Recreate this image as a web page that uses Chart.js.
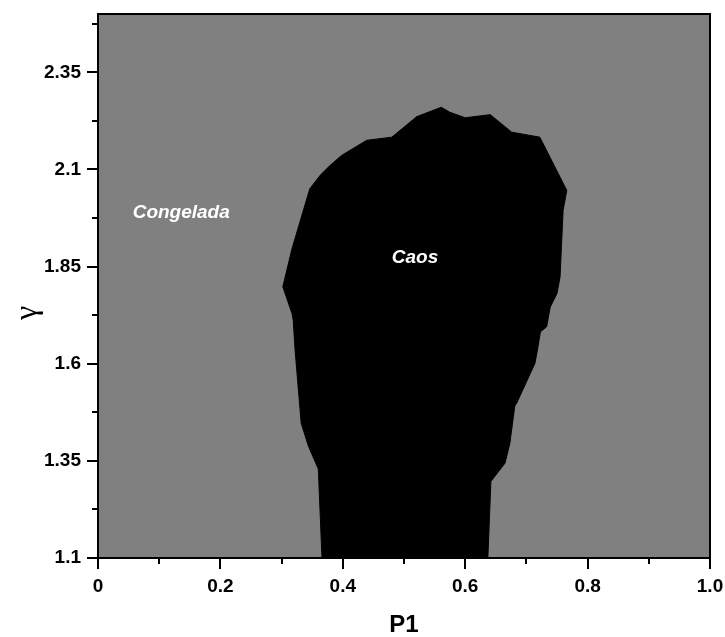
<!DOCTYPE html>
<html>
<head>
<meta charset="utf-8">
<title>P1 vs gamma</title>
<script src="https://cdn.jsdelivr.net/npm/chart.js@4.4.1/dist/chart.umd.min.js"></script>
<style>
  html, body { margin: 0; padding: 0; background: #fff; }
  #wrap { width: 725px; height: 637px; }
</style>
</head>
<body>
<div id="wrap"><canvas id="phaseChart" width="725" height="637"></canvas></div>
<script>
// boundary of the chaotic region (P1, gamma)
const chaosP1 = [0.366, 0.360, 0.344, 0.332, 0.322, 0.319, 0.317, 0.302, 0.317, 0.346, 0.363, 0.379,
  0.398, 0.439, 0.480, 0.521, 0.561, 0.575, 0.600, 0.641, 0.676, 0.722, 0.766, 0.760, 0.758, 0.755,
  0.750, 0.739, 0.733, 0.723, 0.718, 0.714, 0.684, 0.681, 0.673, 0.665, 0.642, 0.637];
const chaosGamma = [1.100, 1.329, 1.387, 1.447, 1.635, 1.712, 1.729, 1.798, 1.896, 2.050, 2.085, 2.110,
  2.136, 2.175, 2.183, 2.236, 2.260, 2.247, 2.233, 2.241, 2.196, 2.183, 2.046, 1.995, 1.926, 1.823,
  1.781, 1.746, 1.695, 1.682, 1.635, 1.601, 1.498, 1.491, 1.395, 1.344, 1.297, 1.100];

const xTicks = [0, 0.2, 0.4, 0.6, 0.8, 1.0];
const xTickLabels = ["0", "0.2", "0.4", "0.6", "0.8", "1.0"];
const xMinor = [0.1, 0.3, 0.5, 0.7, 0.9];
const yTicks = [1.1, 1.35, 1.6, 1.85, 2.1, 2.35];
const yTickLabels = ["1.1", "1.35", "1.6", "1.85", "2.1", "2.35"];
const yMinor = [1.225, 1.475, 1.725, 1.975, 2.225, 2.475];

const regionNames = ["Congelada", "Caos"];
const regionP1 = [0.136, 0.518];
const regionGamma = [1.988, 1.872];

document.addEventListener("DOMContentLoaded", () => {
  const ctx = document.getElementById("phaseChart").getContext("2d");

  const points = chaosP1.map((p, i) => ({ x: p, y: chaosGamma[i] }));

  // gray plot background + frame, minor ticks, region labels, gamma title
  const phasePlugin = {
    id: "phasePlugin",
    beforeDatasetsDraw(chart) {
      const { ctx, chartArea: a } = chart;
      ctx.save();
      ctx.fillStyle = "#808080";
      ctx.fillRect(a.left, a.top, a.right - a.left, a.bottom - a.top);
      ctx.restore();
    },
    afterDraw(chart) {
      const { ctx, chartArea: a, scales } = chart;
      ctx.save();
      ctx.strokeStyle = "#000";
      ctx.lineWidth = 2;
      ctx.strokeRect(a.left, a.top, a.right - a.left, a.bottom - a.top);

      ctx.beginPath();
      xMinor.forEach(v => {
        const px = Math.round(scales.x.getPixelForValue(v));
        ctx.moveTo(px, a.bottom);
        ctx.lineTo(px, a.bottom + 6);
      });
      yMinor.forEach(v => {
        const py = Math.round(scales.y.getPixelForValue(v));
        ctx.moveTo(a.left, py);
        ctx.lineTo(a.left - 6, py);
      });
      ctx.stroke();

      ctx.fillStyle = "#fff";
      ctx.font = "italic bold 19px 'Liberation Sans', Arial, sans-serif";
      ctx.textAlign = "center";
      ctx.textBaseline = "middle";
      regionNames.forEach((name, i) => {
        ctx.fillText(name, scales.x.getPixelForValue(regionP1[i]), scales.y.getPixelForValue(regionGamma[i]));
      });

      // y axis title sits a bit below the middle in the original
      ctx.translate(28, 313);
      ctx.rotate(-Math.PI / 2);
      ctx.fillStyle = "#000";
      ctx.font = "32px 'Liberation Serif', 'DejaVu Serif', serif";
      ctx.fillText("γ", 0, 0);
      ctx.restore();
    }
  };

  const tickFont = { family: "'Liberation Sans', Arial, sans-serif", size: 19, weight: "bold" };

  new Chart(ctx, {
    type: "scatter",
    data: {
      datasets: [{
        label: "Caos",
        data: points,
        showLine: true,
        fill: "shape",
        backgroundColor: "#000",
        borderColor: "#000",
        borderWidth: 1,
        pointRadius: 0,
        tension: 0
      }]
    },
    options: {
      responsive: false,
      animation: false,
      layout: { padding: { left: 8, top: 14, right: 15, bottom: 0 } },
      plugins: {
        legend: { display: false },
        tooltip: { enabled: false }
      },
      scales: {
        x: {
          type: "linear",
          min: 0,
          max: 1,
          afterBuildTicks: scale => { scale.ticks = xTicks.map(v => ({ value: v })); },
          afterFit: scale => {
            scale.height = 79;
            scale.paddingLeft = 0;
            scale.paddingRight = 0;
          },
          ticks: {
            color: "#000",
            font: tickFont,
            padding: 6,
            maxRotation: 0,
            callback: (v) => xTickLabels[xTicks.indexOf(v)] ?? ""
          },
          grid: { drawOnChartArea: false, color: "#000", tickLength: 11, tickWidth: 2, lineWidth: 2 },
          border: { display: false },
          title: {
            display: true,
            text: "P1",
            color: "#000",
            font: { family: "'Liberation Sans', Arial, sans-serif", size: 24, weight: "bold", lineHeight: 1 },
            padding: { top: 0, bottom: 0 }
          }
        },
        y: {
          type: "linear",
          min: 1.1,
          max: 2.5,
          afterBuildTicks: scale => { scale.ticks = yTicks.map(v => ({ value: v })); },
          afterFit: scale => {
            scale.width = 90;
            scale.paddingTop = 0;
            scale.paddingBottom = 0;
          },
          ticks: {
            color: "#000",
            font: tickFont,
            padding: 6,
            callback: (v) => yTickLabels[yTicks.indexOf(v)] ?? ""
          },
          grid: { drawOnChartArea: false, color: "#000", tickLength: 11, tickWidth: 2, lineWidth: 2 },
          border: { display: false },
          title: { display: false }
        }
      }
    },
    plugins: [phasePlugin]
  });
});
</script>
</body>
</html>
